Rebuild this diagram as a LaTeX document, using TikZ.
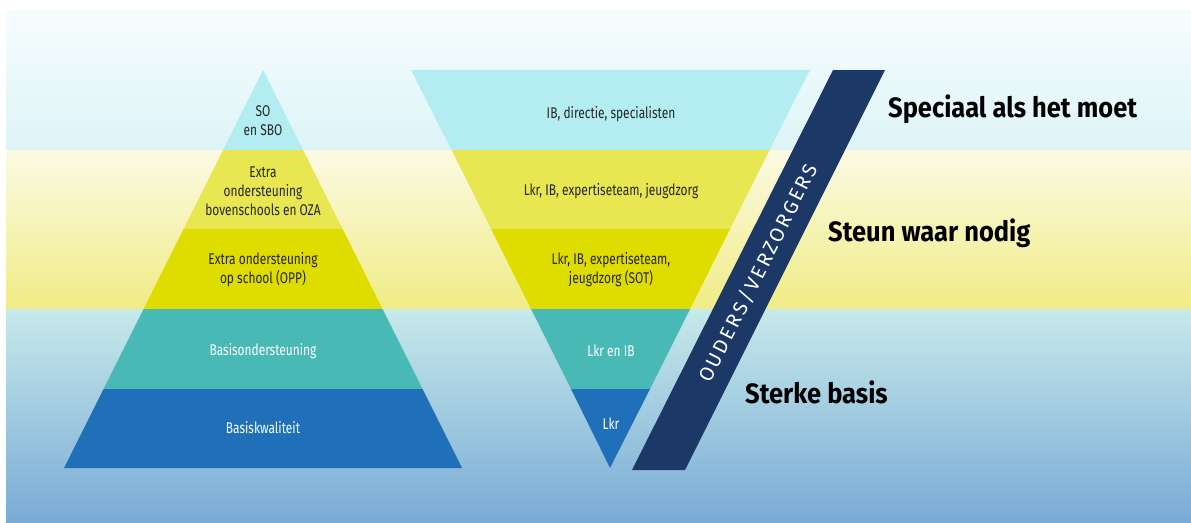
\documentclass[tikz,border=0pt]{standalone}
\usepackage{fontspec}
\setmainfont{Fira Sans}
\newfontfamily\condfont[FakeStretch=0.77]{Fira Sans}
\newfontfamily\bandfont[LetterSpace=13]{Fira Sans}
\newfontfamily\headfont[FakeStretch=0.91]{Fira Sans}
\definecolor{bgtopA}{HTML}{F7FDFE}
\definecolor{bgtopB}{HTML}{DDF4F7}
\definecolor{bgmidA}{HTML}{FBFAE3}
\definecolor{bgmidB}{HTML}{F0EC86}
\definecolor{bgbotA}{HTML}{C6E9EA}
\definecolor{bgbotB}{HTML}{7AABD5}
\definecolor{lcyan}{HTML}{B3EDF2}
\definecolor{lyellow}{HTML}{E8E651}
\definecolor{syellow}{HTML}{DFDC00}
\definecolor{lteal}{HTML}{48B9B4}
\definecolor{lblue}{HTML}{1F70B8}
\definecolor{navy}{HTML}{1B3867}
\definecolor{dtext}{HTML}{262626}
\begin{document}
\begin{tikzpicture}[x=1pt,y=-1pt,
  lbl/.style={font=\condfont\fontsize{15.5}{19}\selectfont, text=dtext, align=center, inner sep=0pt},
  wlbl/.style={lbl, text=white},
  head/.style={font=\headfont\bfseries\fontsize{28}{32}\selectfont, text=black, anchor=base west, inner sep=0pt}]
\useasboundingbox (0,0) rectangle (1191,522);
% background bands
\shade[top color=bgtopA, bottom color=bgtopB] (6,10) rectangle (1191,150);
\shade[top color=bgmidA, bottom color=bgmidB] (6,150) rectangle (1191,309);
\shade[top color=bgbotA, bottom color=bgbotB] (6,309) rectangle (1191,522);
% pyramid
\fill[lcyan]   (263,70) -- (303,150) -- (223,150) -- cycle;
\fill[lyellow] (223,150) -- (303,150) -- (342.5,229) -- (183.5,229) -- cycle;
\fill[syellow] (183.5,229) -- (342.5,229) -- (382.5,309) -- (143.5,309) -- cycle;
\fill[lteal]   (143.5,309) -- (382.5,309) -- (422.5,389) -- (103.5,389) -- cycle;
\fill[lblue]   (103.5,389) -- (422.5,389) -- (462,468) -- (64,468) -- cycle;
% inverted triangle
\fill[lcyan]   (411,70) -- (810,70) -- (769.5,150) -- (451.5,150) -- cycle;
\fill[lyellow] (451.5,150) -- (769.5,150) -- (730,229) -- (491,229) -- cycle;
\fill[syellow] (491,229) -- (730,229) -- (690,309) -- (531,309) -- cycle;
\fill[lteal]   (531,309) -- (690,309) -- (650,389) -- (571,389) -- cycle;
\fill[lblue]   (571,389) -- (650,389) -- (610,468) -- cycle;
% navy band
\fill[navy] (632,470) -- (685,470) -- (885,70) -- (833,70) -- cycle;
% pyramid labels
\node[lbl]  (p1) at (263,121) {SO\\en SBO};
\node[lbl]  (p2) at (263,191) {Extra\\ondersteuning\\bovenschools en OZA};
\node[lbl]  (p3) at (263,270) {Extra ondersteuning\\op school (OPP)};
\node[wlbl] (p4) at (263,351) {Basisondersteuning};
\node[wlbl] (p5) at (263,428) {Basiskwaliteit};
% inverted labels
\node[lbl]  (i1) at (611,114) {IB, directie, specialisten};
\node[lbl]  (i2) at (611,191) {Lkr, IB, expertiseteam, jeugdzorg};
\node[lbl]  (i3) at (611,270) {Lkr, IB, expertiseteam,\\jeugdzorg (SOT)};
\node[wlbl] (i4) at (611,351) {Lkr en IB};
\node[wlbl] (i5) at (611,424) {Lkr};
% band text
\node[text=white, font=\bandfont\fontsize{20}{22}\selectfont, rotate=63.43, inner sep=0pt] (band) at (758,273) {OUDERS/VERZORGERS};
% headings
\node[head] (h1) at (888,117) {Speciaal als het moet};
\node[head] (h2) at (828,241) {Steun waar nodig};
\node[head] (h3) at (745,403) {Sterke basis};
\end{tikzpicture}
\end{document}
